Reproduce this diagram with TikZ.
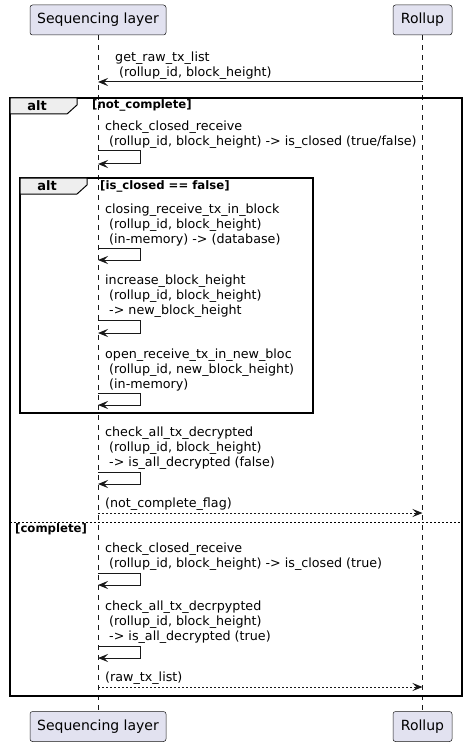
\documentclass[tikz,border=0pt]{standalone}
\usepackage{fontspec}
\setmainfont{DejaVu Sans}
\usetikzlibrary{arrows.meta}
\definecolor{partfill}{HTML}{E2E2F0}
\definecolor{ink}{HTML}{181818}
\definecolor{tabfill}{HTML}{EEEEEE}

\begin{document}
\begin{tikzpicture}[x=1pt,y=-1pt]
  \tikzset{>={Stealth[length=10pt,width=8pt,inset=4pt]}}
  \tikzset{part/.style={draw=ink,line width=0.5pt,fill=partfill,rounded corners=2.5pt,minimum height=30pt,inner sep=0pt,font=\fontsize{14}{16}\selectfont},
    life/.style={draw=ink,line width=0.5pt,dash pattern=on 5pt off 5pt},
    msg/.style={draw=ink,line width=1pt,->},
    ret/.style={msg,dash pattern=on 2pt off 2pt},
    lbl/.style={anchor=south west,inner sep=0pt,align=left,font=\fontsize{12.7}{15}\selectfont},
    frm/.style={draw=black,line width=1.5pt},
    tab/.style={draw=black,line width=1pt,fill=tabfill},
    grd/.style={anchor=west,inner sep=0pt,font=\bfseries\fontsize{11.7}{13}\selectfont}}
  \useasboundingbox (0,0) rectangle (468,746);

  % participants and lifelines
  \node[part,minimum width=136pt] (seqt) at (98,20) {Sequencing layer};
  \node[part,minimum width=59pt] (rolt) at (422.5,20) {Rollup};
  \node[part,minimum width=136pt] (seqb) at (98,726.5) {Sequencing layer};
  \node[part,minimum width=59pt] (rolb) at (422.5,726.5) {Rollup};
  \draw[life] (seqt) -- (seqb);
  \draw[life] (rolt) -- (rolb);

  % request
  \coordinate (m1) at (0,82);
  \draw[msg] (m1 -| rolt) -- (m1 -| seqt);
  \node[lbl] (t1) at (115,80) {get\_raw\_tx\_list\\\ (rollup\_id, block\_height)};

  % outer alt
  \draw[frm] (10,98) rectangle (462,696);
  \draw[tab] (10,98) -- (77,98) -- (77,105) -- (67,114) -- (10,114) -- cycle;
  \node[font=\bfseries\fontsize{13}{15}\selectfont,inner sep=0pt] (alt1) at (37,106) {alt};
  \node[grd] (g1) at (92,105) {[not\_complete]};

  \coordinate (s1) at (0,151);
  \draw[msg] (s1 -| seqt) -- ++(42,0) -- ++(0,13) -- ++(-42,0);
  \node[lbl] (t2) at (105,149) {check\_closed\_receive\\\ (rollup\_id, block\_height) -> is\_closed (true/false)};

  % inner alt
  \draw[frm] (20,178) rectangle (313,413);
  \draw[tab] (20,178) -- (87,178) -- (87,185) -- (77,194) -- (20,194) -- cycle;
  \node[font=\bfseries\fontsize{13}{15}\selectfont,inner sep=0pt] (alt2) at (47,186) {alt};
  \node[grd] (g2) at (100,186) {[is\_closed == false]};

  \coordinate (s2) at (0,248);
  \draw[msg] (s2 -| seqt) -- ++(42,0) -- ++(0,12) -- ++(-42,0);
  \node[lbl] (t3) at (105,246) {closing\_receive\_tx\_in\_block\\\ (rollup\_id, block\_height)\\\ (in-memory) -> (database)};

  \coordinate (s3) at (0,320);
  \draw[msg] (s3 -| seqt) -- ++(42,0) -- ++(0,13) -- ++(-42,0);
  \node[lbl] (t4) at (105,318) {increase\_block\_height\\\ (rollup\_id, block\_height)\\\ -> new\_block\_height};

  \coordinate (s4) at (0,393);
  \draw[msg] (s4 -| seqt) -- ++(42,0) -- ++(0,12) -- ++(-42,0);
  \node[lbl] (t5) at (105,391) {open\_receive\_tx\_in\_new\_bloc\\\ (rollup\_id, new\_block\_height)\\\ (in-memory)};

  \coordinate (s5) at (0,472);
  \draw[msg] (s5 -| seqt) -- ++(42,0) -- ++(0,12) -- ++(-42,0);
  \node[lbl] (t6) at (105,470) {check\_all\_tx\_decrypted\\\ (rollup\_id, block\_height)\\\ -> is\_all\_decrypted (false)};

  \coordinate (r1) at (0,513);
  \draw[ret] (r1 -| seqt) -- (r1 -| rolt);
  \node[lbl] (t7) at (105,511) {(not\_complete\_flag)};

  % else
  \draw[black,line width=1pt,dash pattern=on 2pt off 2pt] (10,522) -- (462,522);
  \node[grd] (g3) at (15,529) {[complete]};

  \coordinate (s6) at (0,573);
  \draw[msg] (s6 -| seqt) -- ++(42,0) -- ++(0,12) -- ++(-42,0);
  \node[lbl] (t8) at (105,571) {check\_closed\_receive\\\ (rollup\_id, block\_height) -> is\_closed (true)};

  \coordinate (s7) at (0,646);
  \draw[msg] (s7 -| seqt) -- ++(42,0) -- ++(0,12) -- ++(-42,0);
  \node[lbl] (t9) at (105,644) {check\_all\_tx\_decrpypted\\\ (rollup\_id, block\_height)\\\ -> is\_all\_decrypted (true)};

  \coordinate (r2) at (0,687);
  \draw[ret] (r2 -| seqt) -- (r2 -| rolt);
  \node[lbl] (t10) at (105,685) {(raw\_tx\_list)};

\end{tikzpicture}
\end{document}
